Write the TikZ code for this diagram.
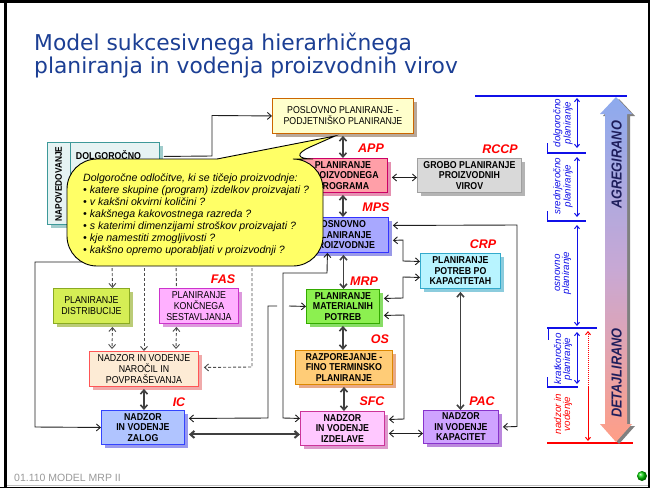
\documentclass[tikz,border=0pt]{standalone}
\usepackage{fontspec}
\setmainfont{Liberation Sans}
\newfontfamily\bxf[FakeStretch=0.88]{Liberation Sans}
\newfontfamily\titlef{DejaVu Sans}
\usetikzlibrary{arrows.meta,shadows,calc}
\definecolor{titleC}{HTML}{1C3F94}
\definecolor{posF}{HTML}{FFFFCC}\definecolor{posD}{HTML}{CC6600}\definecolor{posS}{HTML}{B8A89A}
\definecolor{appF}{HTML}{FF9FA8}\definecolor{appD}{HTML}{CC0066}\definecolor{appS}{HTML}{E590B0}
\definecolor{rcF}{HTML}{D9D9D9}\definecolor{rcD}{HTML}{A0A0A0}\definecolor{rcS}{HTML}{B4B4B4}
\definecolor{fcF}{HTML}{E6F3F3}\definecolor{fcD}{HTML}{3D9999}\definecolor{fcS}{HTML}{A0CCCC}
\definecolor{mpsF}{HTML}{A8A8FF}\definecolor{mpsD}{HTML}{3333FF}\definecolor{mpsS}{HTML}{9999E8}
\definecolor{crpF}{HTML}{B8F4FF}\definecolor{crpD}{HTML}{33AACC}\definecolor{crpS}{HTML}{8CCCDD}
\definecolor{mrpF}{HTML}{8CF050}\definecolor{mrpD}{HTML}{33AA00}\definecolor{mrpS}{HTML}{88DD66}
\definecolor{distF}{HTML}{D5EE55}\definecolor{distD}{HTML}{8AAA22}\definecolor{distS}{HTML}{BBCC77}
\definecolor{fasF}{HTML}{FFB0FF}\definecolor{fasD}{HTML}{CC33CC}\definecolor{fasS}{HTML}{DD99DD}
\definecolor{osF}{HTML}{FFCC77}\definecolor{osD}{HTML}{DD8800}\definecolor{osS}{HTML}{E8AA88}
\definecolor{ordF}{HTML}{FDEBD5}\definecolor{ordD}{HTML}{FF5555}\definecolor{ordS}{HTML}{F0AAAA}
\definecolor{icF}{HTML}{B0C4FF}\definecolor{icD}{HTML}{3344FF}\definecolor{icS}{HTML}{9999EE}
\definecolor{sfcF}{HTML}{FFC8FF}\definecolor{sfcD}{HTML}{CC3399}\definecolor{sfcS}{HTML}{DD99CC}
\definecolor{pacF}{HTML}{CFA3FF}\definecolor{pacD}{HTML}{8833CC}\definecolor{pacS}{HTML}{BB88DD}
\definecolor{callF}{HTML}{FFFF66}
\definecolor{legB}{HTML}{1010E8}
\definecolor{legR}{HTML}{FF0000}
\definecolor{arrTop}{HTML}{8DAAEE}\definecolor{arrMid}{HTML}{C8A8D4}\definecolor{arrBot}{HTML}{FF9E86}
\definecolor{navy}{HTML}{1E1E5C}
\tikzset{
  nbox/.style={draw, line width=0.9pt, inner sep=0pt, align=center, anchor=north west,
     font=\bxf\fontsize{10}{10.8}\selectfont},
  bbox/.style={nbox, font=\bxf\bfseries\fontsize{10}{10.5}\selectfont},
  shad/.style={drop shadow={shadow xshift=4pt, shadow yshift=-4pt, fill=#1, opacity=1}},
  lbl/.style={text=legR, font=\bfseries\itshape\fontsize{12.5}{12.5}\selectfont, inner sep=0pt},
  conn/.style={draw=black!88, line width=0.9pt},
  tipE/.style={-{Straight Barb[length=4pt,width=7pt]}},
  tipS/.style={{Straight Barb[length=4pt,width=7pt]}-},
  tipB/.style={{Straight Barb[length=4pt,width=7pt]}-{Straight Barb[length=4pt,width=7pt]}},
  heavy/.style={draw=black!75, line width=1.6pt},
  dsh/.style={draw=black!70, line width=0.9pt, dash pattern=on 3pt off 2pt},
  legtxt/.style={rotate=90, align=center, inner sep=0pt, font=\itshape\fontsize{9.8}{9}\selectfont},
  legarr/.style={draw=legB, line width=1pt, {Straight Barb[length=3pt,width=5pt]}-{Straight Barb[length=3pt,width=5pt]}}
}
\begin{document}
\begin{tikzpicture}[x=1pt,y=-1pt]
\useasboundingbox (0,0) rectangle (650,488);
\fill[white] (0,0) rectangle (650,488);
% title
\node[anchor=base west, inner sep=0pt, text=titleC, font=\titlef\fontsize{21.8}{21.8}\selectfont] (title1) at (34,50) {Model sukcesivnega hierarhičnega};
\node[anchor=base west, inner sep=0pt, text=titleC, font=\titlef\fontsize{21.8}{21.8}\selectfont] (title2) at (34,73) {planiranja in vodenja proizvodnih virov};

% boxes
\node[nbox, fill=posF, draw=posD, shad=posS, minimum width=141pt, minimum height=35pt] (pos) at (272,98) {POSLOVNO PLANIRANJE -\\PODJETNIŠKO PLANIRANJE};
\node[bbox, fill=appF, draw=appD, shad=appS, minimum width=89pt, minimum height=34pt] (app) at (298,158) {PLANIRANJE\\PROIZVODNEGA\\PROGRAMA};
\node[bbox, fill=rcF, draw=rcD, shad=rcS, minimum width=104pt, minimum height=34pt] (rccp) at (417,158) {GROBO PLANIRANJE\\PROIZVODNIH\\VIROV};
\node[nbox, fill=fcF, draw=fcD, shad=fcS, minimum width=112pt, minimum height=82pt] (fc) at (47,142) {};
\draw[draw=fcD, line width=0.9pt] ([xshift=23pt]fc.north west) -- ([xshift=23pt]fc.south west);
\node[rotate=90, inner sep=0pt, font=\bxf\bfseries\fontsize{9.5}{9.5}\selectfont] (napov) at (58.5,184) {NAPOVEDOVANJE};
\node[inner sep=0pt, font=\bxf\bfseries\fontsize{10}{10}\selectfont] (dolg) at (108.5,155) {DOLGOROČNO};
\node[bbox, fill=mpsF, draw=mpsD, shad=mpsS, minimum width=90pt, minimum height=35pt] (mps) at (298,217) {OSNOVNO\\PLANIRANJE\\PROIZVODNJE};
\node[bbox, fill=crpF, draw=crpD, shad=crpS, minimum width=80pt, minimum height=35pt] (crp) at (420,253) {PLANIRANJE\\POTREB PO\\KAPACITETAH};
\node[bbox, fill=mrpF, draw=mrpD, shad=mrpS, minimum width=73pt, minimum height=34pt] (mrp) at (306,289) {PLANIRANJE\\MATERIALNIH\\POTREB};
\node[nbox, fill=distF, draw=distD, shad=distS, minimum width=76pt, minimum height=35pt] (dist) at (53,288) {PLANIRANJE\\DISTRIBUCIJE};
\node[nbox, fill=fasF, draw=fasD, shad=fasS, minimum width=79pt, minimum height=35pt] (fas) at (159,288) {PLANIRANJE\\KONČNEGA\\SESTAVLJANJA};
\node[bbox, fill=osF, draw=osD, shad=osS, minimum width=97pt, minimum height=34pt] (os) at (295,350) {RAZPOREJANJE -\\FINO TERMINSKO\\PLANIRANJE};
\node[nbox, fill=ordF, draw=ordD, shad=ordS, minimum width=109pt, minimum height=35pt] (ord) at (89,351) {NADZOR IN VODENJE\\NAROČIL IN\\POVPRAŠEVANJA};
\node[bbox, fill=icF, draw=icD, shad=icS, minimum width=83pt, minimum height=34pt] (ic) at (101,410) {NADZOR\\IN VODENJE\\ZALOG};
\node[bbox, fill=sfcF, draw=sfcD, shad=sfcS, minimum width=84pt, minimum height=34pt] (sfc) at (300,411) {NADZOR\\IN VODENJE\\IZDELAVE};
\node[bbox, fill=pacF, draw=pacD, shad=pacS, minimum width=75pt, minimum height=33pt] (pac) at (423,410) {NADZOR\\IN VODENJE\\KAPACITET};

% labels
\node[lbl] (lapp) at (371,148) {APP};
\node[lbl] (lrccp) at (500,149) {RCCP};
\node[lbl] (lmps) at (376,207.5) {MPS};
\node[lbl] (lcrp) at (483,244) {CRP};
\node[lbl] (lmrp) at (364,281) {MRP};
\node[lbl] (los) at (380,339) {OS};
\node[lbl] (lsfc) at (372,401) {SFC};
\node[lbl] (lpac) at (482,401) {PAC};
\node[lbl] (lic) at (179,402.5) {IC};
\node[lbl] (lfas) at (223,279) {FAS};

% connectors
\draw[conn, tipE] ([xshift=4pt,yshift=27pt]fc.east) -- (212,156) -- (212,115.5) -- (pos.west);
\draw[heavy, tipB] ([yshift=-2pt]pos.south) -- (app.north);
\draw[heavy, tipB] ([yshift=-2pt]app.south) -- (app.south |- mps.north);
\draw[heavy, tipB] ([yshift=-2pt]mps.south) -- (mps.south |- mrp.north);
\draw[heavy, tipB] ([yshift=-2pt]mrp.south) -- (mrp.south |- os.north);
\draw[heavy, tipB] ([yshift=-2pt]os.south) -- (os.south |- sfc.north);
\draw[conn, tipB] ([xshift=4pt,yshift=-2pt]app.east) -- ([yshift=-2pt]rccp.west);
\draw[conn, tipB] ([xshift=4pt,yshift=-5.5pt]mps.east) -- (403,240) -- (403,261) -- ([yshift=9.5pt]crp.west);
\draw[conn, tipB] ([xshift=4pt,yshift=8pt]mrp.east) -- (403,298) -- (403,277) -- ([yshift=-6.5pt]crp.west);
\draw[conn, tipB] ([xshift=4pt,yshift=-9pt]mrp.east) -- (404,315) -- (404,419) -- ([xshift=4pt,yshift=9pt]sfc.east);
\draw[conn, tipB] ([xshift=4pt,yshift=-5pt]sfc.east) -- ([yshift=-6.5pt]pac.west);
\draw[heavy, tipB] ([yshift=-3pt]crp.south) -- (crp.south |- pac.north);
\draw[conn, tipB] ([xshift=4pt,yshift=9.5pt]mps.east) -- (517,225) -- (517,426.5) -- ([xshift=4pt]pac.east);
\draw[conn, tipB] ([yshift=10pt]sfc.west) -- (283,418) -- (283,273) -- (327,273) -- ([xshift=-16pt]mps.south);
\draw[conn, tipS] (mrp.west) -- (289,306);
\draw[conn, tipE] (277,306) -- (268,306) -- (268,418) -- ([xshift=4pt,yshift=9pt]ic.east);
\draw[heavy, line width=2pt, tipB] ([xshift=4pt,yshift=-7pt]ic.east) -- ([yshift=-6pt]sfc.west);
\draw[heavy, tipB] ([yshift=-2pt]ord.south) -- (ord.south |- ic.north);
\draw[conn, tipE] (300,262) -- (35,262) -- (35,427) -- (ic.west);

% dashed
\draw[dsh, tipE] (112,258) -- ([xshift=21pt]dist.north);
\draw[dsh, tipE] (144,258) -- (144,351);
\draw[dsh] (176,258) -- ([xshift=-22.5pt]fas.north);
\draw[dsh, tipE] (252,258) -- (252,367) -- ([xshift=5pt,yshift=1.5pt]ord.east);
\draw[dsh, tipB] ([xshift=21pt,yshift=-3pt]dist.south) -- (112,349);
\draw[dsh, tipB] ([xshift=-22.5pt,yshift=-3pt]fas.south) -- (176,349);

% callout
\draw[fill=callF, line width=0.9pt, rounded corners=30pt] (200,159) -- (67,159) -- (67,266) -- (323,266) -- (323,159) -- (283,159) [sharp corners] -- (335,136) -- (217,159) -- cycle;
\node[anchor=north west, align=left, inner sep=0pt, font=\itshape\fontsize{10.6}{12}\selectfont] (calltext) at (83,174)
{Dolgoročne odločitve, ki se tičejo proizvodnje:\\
• katere skupine (program) izdelkov proizvajati ?\\
• v kakšni okvirni količini ?\\
• kakšnega kakovostnega razreda ?\\
• s katerimi dimenzijami stroškov proizvajati ?\\
• kje namestiti zmogljivosti ?\\
• kakšno opremo uporabljati v proizvodnji ?};

% legend
\draw[legB, line width=1.1pt] (475,96) -- (627,96);
\draw[legB, line width=1.1pt] (547,153) -- (586,153);
\draw[legB, line width=1.1pt] (547,221) -- (586,221);
\draw[legB, line width=1.1pt] (547,328) -- (597,328);
\draw[legB, line width=1.1pt] (547,387) -- (578,387);
\draw[legR, line width=1.1pt] (547,443) -- (633,443);
\draw[legB, line width=1pt] (547,143) -- (547,153) (547,211) -- (547,221) (548,328) -- (548,340) (547,377) -- (547,387);
\draw[legarr] (577,98) -- (577,148);
\draw[legarr] (577,157) -- (577,217);
\draw[legarr] (577,225) -- (577,326);
\draw[legarr] (577,332) -- (577,384);
\draw[draw=legR, line width=1pt, dash pattern=on 1pt off 1pt, -{Straight Barb[length=3pt,width=5pt]}] (588,387) -- (588,331);
\draw[draw=legR, line width=1pt, -{Straight Barb[length=3pt,width=5pt]}] (588,387) -- (588,441);
\node[legtxt, text=legB] (lg1) at (563,123) {dolgoročno\\planiranje};
\node[legtxt, text=legB] (lg2) at (563,186) {srednjeročno\\planiranje};
\node[legtxt, text=legB] (lg3) at (563,273) {osnovno\\planiranje};
\node[legtxt, text=legB] (lg4) at (563,359) {kratkoročno\\planiranje};
\node[legtxt, text=legR] (lg5) at (563,414) {nadzor in\\vodenje};

% big arrow
\fill[black!50, shift={(3,2)}] (616,97) -- (632,114) -- (627,114) -- (627,424) -- (632,424) -- (616,442) -- (600,424) -- (605,424) -- (605,114) -- (600,114) -- cycle;
\shade[top color=arrTop, bottom color=arrBot, middle color=arrMid] (616,97) -- (632,114) -- (627,114) -- (627,424) -- (632,424) -- (616,442) -- (600,424) -- (605,424) -- (605,114) -- (600,114) -- cycle;
\node[rotate=90, inner sep=0pt, text=navy, font=\bxf\bfseries\itshape\fontsize{14.5}{14.5}\selectfont] (agr) at (616.5,165) {AGREGIRANO};
\node[rotate=90, inner sep=0pt, text=navy, font=\bxf\bfseries\itshape\fontsize{14.5}{14.5}\selectfont] (det) at (616.5,373) {DETAJLIRANO};

% footer
\node[anchor=west, inner sep=0pt, text=black!40, font=\fontsize{10.5}{10.5}\selectfont] (foot) at (14,478) {01.110 MODEL MRP II};
\shade[ball color=green!80!black] (642,476) circle (5);
\draw[black!25, line width=1pt] (7,485) -- (648,485);
% frame
\draw[line width=3pt] (5.5,0) -- (5.5,488);
\draw[line width=3pt] (0,1.5) -- (650,1.5);
\draw[line width=2pt] (649,0) -- (649,488);
\draw[line width=1.5pt] (0,487.3) -- (650,487.3);
\end{tikzpicture}
\end{document}
